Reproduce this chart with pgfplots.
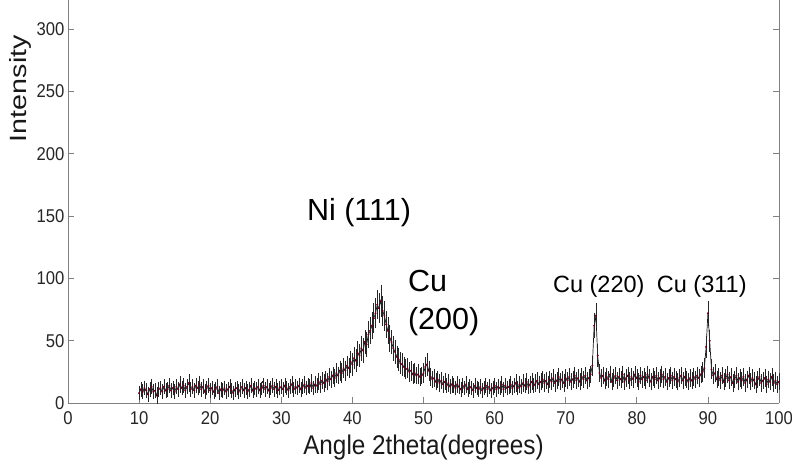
\documentclass[border=0pt]{standalone}
\usepackage{fontspec}
\setmainfont{Liberation Sans}[FakeStretch=0.9]
\newfontfamily\annot{Liberation Sans}
\newfontfamily\ylab{Liberation Sans}[FakeStretch=1.22]
\usepackage{pgfplots}
\pgfplotsset{compat=1.18}
\begin{document}
\begin{tikzpicture}
\begin{axis}[
  scale only axis, width=711pt, height=403pt,
  xmin=0, xmax=100, ymin=0, ymax=323.5,
  axis x line*=bottom, axis y line*=box,
  xtick={0,10,...,100}, ytick={0,50,...,300},
  ytick pos=both,
  tick align=inside, major tick length=6pt,
  axis line style={black!50, line width=0.8pt},
  every tick/.style={black!50, line width=0.8pt},
  /pgf/number format/assume math mode=true,
  tick label style={font=\fontsize{18.5}{18.5}\selectfont, black!85},
  xticklabel style={yshift=-5pt},
  xlabel={Angle 2theta(degrees)},
  xlabel style={font=\fontsize{27}{27}\selectfont, black!90, yshift=-3pt},
  ylabel={\ylab Intensity},
  ylabel style={font=\fontsize{23.5}{23.5}\selectfont, black!90, at={(rel axis cs:-0.0506,0.78)}, anchor=south, inner sep=0pt},
  clip=false,
]
\addplot[black!90, line width=0.7pt, mark=*, mark size=0.6pt,
  mark options={draw=purple!50!black, fill=purple!50!black},
  error bars/.cd, y dir=both, y explicit,
  error bar style={black!85, line width=0.5pt},
  error mark options={black!85, mark size=1.2pt, line width=0.5pt}]
table[row sep=\\, x=x, y=y, y error=e]{
x y e\\
10 8 5\\ 10.25 11 5\\ 10.5 9 5\\ 10.75 12 5\\ 11 10 5\\ 11.25 7 5\\ 11.5 11 5\\ 11.75 13 5\\
12 9 5\\ 12.25 10 5\\ 12.5 6 6\\ 12.75 11 5\\ 13 12 5\\ 13.25 9 5\\ 13.5 13 5\\ 13.75 10 5\\
14 11 5\\ 14.25 14 5\\ 14.5 10 5\\ 14.75 12 5\\ 15 9 5\\ 15.25 13 5\\ 15.5 11 5\\ 15.75 15 6\\
16 12 5\\ 16.25 14 5\\ 16.5 10 5\\ 16.75 13 5\\ 17 16 6\\ 17.25 11 5\\ 17.5 13 5\\ 17.75 10 5\\
18 14 5\\ 18.25 12 5\\ 18.5 15 6\\ 18.75 11 5\\ 19 13 5\\ 19.25 9 5\\ 19.5 12 5\\ 19.75 14 5\\
20 10 5\\ 20.25 12 5\\ 20.5 9 5\\ 20.75 11 5\\ 21 13 5\\ 21.25 8 5\\ 21.5 11 5\\ 21.75 10 5\\
22 12 5\\ 22.25 9 5\\ 22.5 11 5\\ 22.75 13 5\\ 23 10 5\\ 23.25 8 5\\ 23.5 11 5\\ 23.75 12 5\\
24 9 5\\ 24.25 11 5\\ 24.5 13 5\\ 24.75 10 5\\ 25 12 5\\ 25.25 9 5\\ 25.5 11 5\\ 25.75 14 5\\
26 10 5\\ 26.25 12 5\\ 26.5 11 5\\ 26.75 13 5\\ 27 10 5\\ 27.25 12 5\\ 27.5 14 5\\ 27.75 11 5\\
28 13 5\\ 28.25 10 5\\ 28.5 12 5\\ 28.75 14 5\\ 29 11 5\\ 29.25 13 5\\ 29.5 10 5\\ 29.75 12 5\\
30 13 5\\ 30.25 11 5\\ 30.5 14 5\\ 30.75 12 5\\ 31 10 5\\ 31.25 13 5\\ 31.5 15 6\\ 31.75 11 5\\
32 13 5\\ 32.25 12 5\\ 32.5 14 5\\ 32.75 11 5\\ 33 13 5\\ 33.25 15 6\\ 33.5 12 5\\ 33.75 14 5\\
34 13 5\\ 34.25 16 6\\ 34.5 12 5\\ 34.75 15 6\\ 35 14 5\\ 35.25 17 6\\ 35.5 15 6\\ 35.75 18 6\\
36 16 6\\ 36.25 19 6\\ 36.5 17 6\\ 36.75 21 6\\ 37 19 6\\ 37.25 22 6\\ 37.5 20 6\\ 37.75 24 7\\
38 22 6\\ 38.25 26 7\\ 38.5 24 7\\ 38.75 28 7\\ 39 26 7\\ 39.25 30 7\\ 39.5 28 7\\ 39.75 33 8\\
40 31 8\\ 40.25 36 8\\ 40.5 34 8\\ 40.75 40 9\\ 41 38 8\\ 41.25 44 9\\ 41.5 42 9\\ 41.75 49 9\\
42 47 9\\ 42.25 55 10\\ 42.5 58 10\\ 42.75 62 10\\ 43 68 11\\ 43.25 72 11\\ 43.5 79 11\\ 43.75 76 11\\
44 82 12\\ 44.25 74 11\\ 44.5 70 11\\ 44.75 63 10\\ 45 58 10\\ 45.25 52 10\\ 45.5 49 9\\ 45.75 44 9\\
46 41 9\\ 46.25 37 8\\ 46.5 35 8\\ 46.75 32 8\\ 47 31 8\\ 47.25 29 7\\ 47.5 27 7\\ 47.75 28 7\\
48 25 7\\ 48.25 26 7\\ 48.5 23 7\\ 48.75 24 7\\ 49 22 6\\ 49.25 23 7\\ 49.5 21 6\\ 49.75 22 6\\
50 24 7\\ 50.25 29 7\\ 50.5 31 8\\ 50.75 26 7\\ 51 21 6\\ 51.25 19 6\\ 51.5 20 6\\ 51.75 17 6\\
52 19 6\\ 52.25 16 6\\ 52.5 18 6\\ 52.75 15 6\\ 53 17 6\\ 53.25 14 5\\ 53.5 16 6\\ 53.75 13 5\\
54 15 6\\ 54.25 14 5\\ 54.5 12 5\\ 54.75 15 6\\ 55 13 5\\ 55.25 11 5\\ 55.5 14 5\\ 55.75 12 5\\
56 15 6\\ 56.25 11 5\\ 56.5 13 5\\ 56.75 12 5\\ 57 10 5\\ 57.25 14 5\\ 57.5 12 5\\ 57.75 11 5\\
58 13 5\\ 58.25 10 5\\ 58.5 12 5\\ 58.75 14 5\\ 59 11 5\\ 59.25 13 5\\ 59.5 10 5\\ 59.75 12 5\\
60 14 5\\ 60.25 11 5\\ 60.5 13 5\\ 60.75 12 5\\ 61 15 6\\ 61.25 11 5\\ 61.5 14 5\\ 61.75 12 5\\
62 13 5\\ 62.25 15 6\\ 62.5 12 5\\ 62.75 14 5\\ 63 16 6\\ 63.25 12 5\\ 63.5 15 6\\ 63.75 13 5\\
64 16 6\\ 64.25 14 5\\ 64.5 17 6\\ 64.75 13 5\\ 65 15 6\\ 65.25 17 6\\ 65.5 14 5\\ 65.75 16 6\\
66 18 6\\ 66.25 15 6\\ 66.5 17 6\\ 66.75 19 6\\ 67 16 6\\ 67.25 18 6\\ 67.5 15 6\\ 67.75 19 6\\
68 17 6\\ 68.25 20 6\\ 68.5 16 6\\ 68.75 18 6\\ 69 21 6\\ 69.25 17 6\\ 69.5 19 6\\ 69.75 16 6\\
70 20 6\\ 70.25 18 6\\ 70.5 21 6\\ 70.75 17 6\\ 71 19 6\\ 71.25 22 6\\ 71.5 18 6\\ 71.75 20 6\\
72 17 6\\ 72.25 21 6\\ 72.5 19 6\\ 72.75 22 6\\ 73 18 6\\ 73.25 20 6\\ 73.5 23 6\\ 73.75 30 7\\
74 62 9\\ 74.25 70 9\\ 74.5 38 8\\ 74.75 24 6\\ 75 20 6\\ 75.25 22 6\\ 75.5 18 6\\ 75.75 21 6\\
76 19 6\\ 76.25 23 6\\ 76.5 17 6\\ 76.75 20 6\\ 77 22 6\\ 77.25 18 6\\ 77.5 21 6\\ 77.75 19 6\\
78 23 6\\ 78.25 17 6\\ 78.5 20 6\\ 78.75 22 6\\ 79 18 6\\ 79.25 21 6\\ 79.5 19 6\\ 79.75 23 6\\
80 20 6\\ 80.25 17 6\\ 80.5 22 6\\ 80.75 19 6\\ 81 21 6\\ 81.25 18 6\\ 81.5 23 6\\ 81.75 20 6\\
82 17 6\\ 82.25 21 6\\ 82.5 19 6\\ 82.75 22 6\\ 83 18 6\\ 83.25 20 6\\ 83.5 23 6\\ 83.75 19 6\\
84 21 6\\ 84.25 17 6\\ 84.5 20 6\\ 84.75 22 6\\ 85 18 6\\ 85.25 21 6\\ 85.5 19 6\\ 85.75 17 6\\
86 20 6\\ 86.25 22 6\\ 86.5 18 6\\ 86.75 21 6\\ 87 19 6\\ 87.25 17 6\\ 87.5 20 6\\ 87.75 18 6\\
88 21 6\\ 88.25 19 6\\ 88.5 22 6\\ 88.75 20 6\\ 89 23 6\\ 89.25 25 7\\ 89.5 28 7\\ 89.75 45 8\\
90 72 9\\ 90.25 50 8\\ 90.5 27 7\\ 90.75 22 6\\ 91 24 6\\ 91.25 19 6\\ 91.5 21 6\\ 91.75 18 6\\
92 22 6\\ 92.25 17 6\\ 92.5 20 6\\ 92.75 23 6\\ 93 18 6\\ 93.25 21 6\\ 93.5 16 6\\ 93.75 19 6\\
94 22 6\\ 94.25 17 6\\ 94.5 20 6\\ 94.75 18 6\\ 95 21 6\\ 95.25 16 6\\ 95.5 19 6\\ 95.75 22 6\\
96 17 6\\ 96.25 20 6\\ 96.5 18 6\\ 96.75 15 6\\ 97 19 6\\ 97.25 21 6\\ 97.5 16 6\\ 97.75 18 6\\
98 20 6\\ 98.25 15 6\\ 98.5 19 6\\ 98.75 17 6\\ 99 21 6\\ 99.25 16 6\\ 99.5 18 6\\ 99.75 15 6\\
100 17 6\\
};
\node[anchor=base west, inner sep=0pt, font=\annot\fontsize{30.5}{30.5}\selectfont] at (axis cs:33.6,146.4) {Ni (111)};
\node[anchor=base west, inner sep=0pt, font=\annot\fontsize{30.5}{30.5}\selectfont] at (axis cs:47.8,89.3) {Cu};
\node[anchor=base west, inner sep=0pt, font=\annot\fontsize{30.5}{30.5}\selectfont] at (axis cs:47.8,58.7) {(200)};
\node[anchor=base west, inner sep=0pt, font=\annot\fontsize{23.5}{23.5}\selectfont] at (axis cs:68.2,88.5) {Cu (220)};
\node[anchor=base west, inner sep=0pt, font=\annot\fontsize{23.5}{23.5}\selectfont] at (axis cs:82.8,88.5) {Cu (311)};
\end{axis}
\pgfresetboundingbox
\path ([xshift=-68pt,yshift=-60pt]current axis.south west) rectangle ([xshift=13pt]current axis.north east);
\end{tikzpicture}
\end{document}
